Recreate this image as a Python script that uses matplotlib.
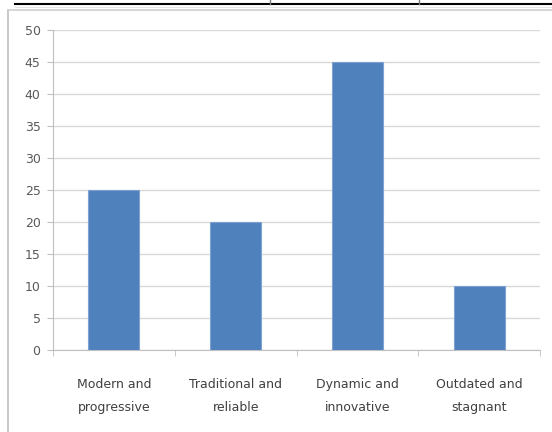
import matplotlib.pyplot as plt
from matplotlib.lines import Line2D
from matplotlib import font_manager

# survey answers: how the brand is seen
categories = ["Modern and\nprogressive", "Traditional and\nreliable",
              "Dynamic and\ninnovative", "Outdated and\nstagnant"]
values = [25, 20, 45, 10]
yticks = [0, 5, 10, 15, 20, 25, 30, 35, 40, 45, 50]

names = {f.name for f in font_manager.fontManager.ttflist}
fam = "Liberation Sans Narrow" if "Liberation Sans Narrow" in names else "DejaVu Sans"
plt.rcParams['font.family'] = [fam, 'DejaVu Sans']

fig = plt.figure(figsize=(5.52, 4.32), dpi=100)
W, H = 552, 432

def fx(px):
    return px / W

def fy(py):
    return 1 - py / H

# surrounding table edge and chart frame
fig.add_artist(Line2D([fx(15), 1], [fy(4), fy(4)], color="black", lw=1.5))
fig.add_artist(Line2D([fx(15), 1], [fy(7), fy(7)], color="#e6e6e6", lw=0.8))
for xp in (270, 419):
    fig.add_artist(Line2D([fx(xp), fx(xp)], [1, fy(4)], color="#777777", lw=1))
fig.add_artist(Line2D([fx(7.5), fx(7.5)], [fy(10), 0], color="#bfbfbf", lw=1.2))
fig.add_artist(Line2D([fx(7.5), 1], [fy(10), fy(10)], color="#d0d0d0", lw=1.2))

ax = fig.add_axes([fx(53), fy(350), fx(540) - fx(53), fy(30) - fy(350)])

x = range(len(categories))
ax.bar(x, values, width=0.42, color="#4F81BD", edgecolor="#7ea3d3",
       linewidth=0.8, zorder=3)

ax.set_xlim(-0.5, len(categories) - 0.5)
ax.set_ylim(0, 50)
ax.set_yticks(yticks)
ax.yaxis.grid(True, color="#d9d9d9", lw=1, zorder=0)

ax.set_xticks(list(x))
ax.set_xticklabels(categories, fontsize=9, color="#404040", linespacing=2.0)
ax.set_xticks([i - 0.5 for i in range(len(categories) + 1)], minor=True)
ax.tick_params(axis="x", which="major", length=0, pad=20)
ax.tick_params(axis="x", which="minor", length=4, color="#bfbfbf", direction="out")
ax.tick_params(axis="y", length=4, color="#bfbfbf", labelsize=9,
               labelcolor="#595959", pad=5)

for s in ("top", "right"):
    ax.spines[s].set_visible(False)
for s in ("left", "bottom"):
    ax.spines[s].set_color("#bfbfbf")

fig.savefig("out.png", dpi=100)
